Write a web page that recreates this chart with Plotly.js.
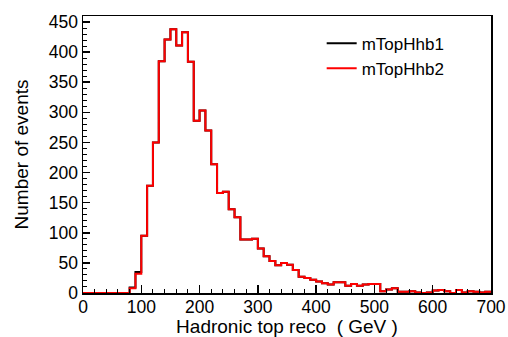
<!DOCTYPE html>
<html>
<head>
<meta charset="utf-8">
<script src="https://cdn.plot.ly/plotly-3.0.1.min.js"></script>
<style>
html,body{margin:0;padding:0;background:#fff;}
#chart{width:508px;height:337px;}
</style>
</head>
<body>
<div id="chart"></div>
<script>
// bin lower edges (GeV), 10 GeV bins from 0 to 700
var binEdges = [0,10,20,30,40,50,60,70,80,90,100,110,120,130,140,150,160,170,180,190,
  200,210,220,230,240,250,260,270,280,290,300,310,320,330,340,350,360,370,380,390,
  400,410,420,430,440,450,460,470,480,490,500,510,520,530,540,550,560,570,580,590,
  600,610,620,630,640,650,660,670,680,690,700];

var mTopHhb1 = [0,0,0,0,0,0,0,0,9,35,95,178,250,385,421,438,411,433,384,286,
  303,270,214,166,168,139,126,89,89,90,74,61,53,46,50,47,38,27,25,22,
  19,16,14,18,18,12,15,12,14,15,15,3,6,8,2,2,3,1,0,1,
  4,5,3,0,5,1,3,2,1,2];

var mTopHhb2 = [0,0,0,0,0,0,0,0,8,32,95,178,250,385,421,438,411,433,384,286,
  303,270,214,166,168,139,126,89,89,90,74,61,53,46,50,47,38,27,25,22,
  19,16,14,18,18,12,15,12,14,15,15,3,6,8,2,2,3,1,0,1,
  4,5,3,0,5,1,3,2,1,2];

var seriesNames = ['mTopHhb1','mTopHhb2'];
var seriesColors = ['#000000','#ff0000'];

function stepY(vals){ return vals.concat([vals[vals.length-1]]); }

var traces = [mTopHhb1, mTopHhb2].map(function(v,i){
  return {
    type:'scatter', mode:'lines',
    x: binEdges, y: stepY(v),
    line:{shape:'hv', color:seriesColors[i], width:2},
    name: seriesNames[i]
  };
});

var font = 'Liberation Sans, Arial, Helvetica, sans-serif';
var layout = {
  width:508, height:337,
  margin:{l:83, r:17, t:16, b:44, pad:0},
  paper_bgcolor:'#fff', plot_bgcolor:'#fff',
  font:{family:font, color:'#000', size:17.5},
  showlegend:true,
  legend:{x:0.585, y:0.965, xanchor:'left', yanchor:'top', bgcolor:'rgba(0,0,0,0)',
    font:{family:font, size:17, color:'#000'}, itemwidth:30, tracegroupgap:0},
  xaxis:{
    range:[0,700], dtick:100, tick0:0,
    showgrid:false, zeroline:false,
    showline:true, linecolor:'#000', linewidth:1.5, mirror:true,
    ticks:'inside', ticklen:8, tickwidth:1.5, tickcolor:'#000',
    minor:{dtick:20, ticks:'inside', ticklen:4, tickwidth:1, tickcolor:'#000', showgrid:false},
    tickfont:{family:font, size:17.5},
    ticklabelstandoff:-3,
    title:{text:'Hadronic top reco  ( GeV )', font:{family:font, size:19}, standoff:12}
  },
  yaxis:{
    range:[0,460], dtick:50, tick0:0,
    showgrid:false, zeroline:false,
    showline:true, linecolor:'#000', linewidth:1.5, mirror:true,
    ticks:'inside', ticklen:7, tickwidth:1.5, tickcolor:'#000',
    minor:{dtick:10, ticks:'inside', ticklen:4, tickwidth:1, tickcolor:'#000', showgrid:false},
    tickfont:{family:font, size:17.5},
    title:{text:'Number of events', font:{family:font, size:19}, standoff:15}
  }
};

Plotly.newPlot('chart', traces, layout, {displayModeBar:false, staticPlot:true});
</script>
</body>
</html>
